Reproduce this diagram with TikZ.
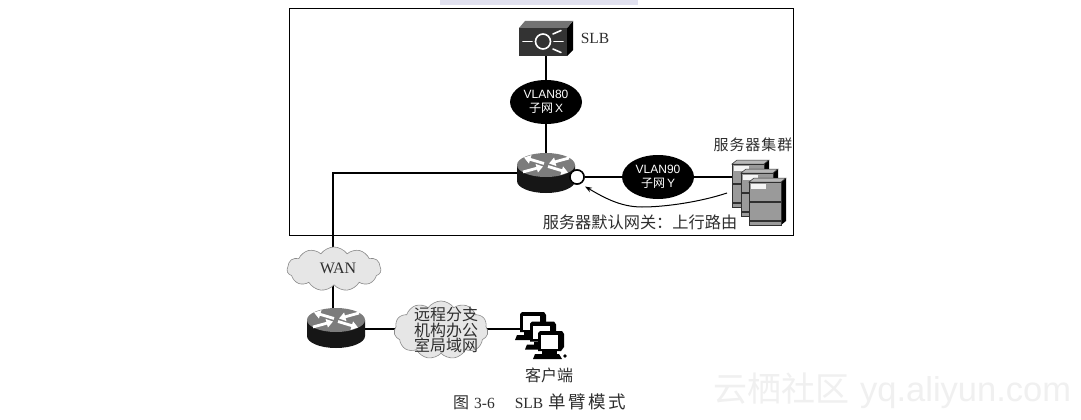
\documentclass[tikz,border=0pt]{standalone}
\usepackage{fontspec}
\setmainfont{Liberation Serif}
\newfontfamily\cjk{Noto Sans CJK SC}
\newfontfamily\cjkwide[LetterSpace=6]{Noto Sans CJK SC}
\newfontfamily\cjkcap[LetterSpace=14]{Noto Sans CJK SC}
\newfontfamily\arialf{Liberation Sans}
\usetikzlibrary{shapes.geometric,shapes.symbols,arrows.meta}
\definecolor{ink}{HTML}{2E2E2E}
\definecolor{cloudfill}{HTML}{E6E6E6}
\definecolor{cloudedge}{HTML}{8A8A8A}
\definecolor{routertop}{HTML}{7C7C7C}
\definecolor{routerbody}{HTML}{161616}
\definecolor{serverface}{HTML}{9A9A9A}
\definecolor{serverline}{HTML}{303030}
\tikzset{
  wire/.style={line width=1.5pt,black},
  vlan/.style={ellipse,fill=black,text=white,minimum width=72pt,minimum height=44pt,inner sep=0pt,align=center},
  netcloud/.style={cloud,fill=cloudfill,draw=cloudedge,line width=0.6pt,cloud puffs=11,cloud puff arc=110,inner sep=0pt},
  anchorbox/.style={inner sep=0pt,outer sep=0pt,rectangle},
  label14/.style={text=ink,inner sep=0pt},
  gateway/.style={circle,draw=black,fill=white,line width=1.5pt,minimum size=14pt,inner sep=0pt},
  routerarrow/.style={white,line width=2.8pt,-{Triangle[length=6.5pt,width=8.5pt]}},
  router/.pic={
    % cylinder body, then the lit top with the four crossing arrows
    \fill[routerbody] (-29,-8) -- (-29,8) arc[start angle=180,end angle=0,x radius=29,y radius=12] -- (29,-8) -- cycle;
    \fill[routertop] (0,-8) ellipse[x radius=29,y radius=12];
    \draw[routerarrow] (-2,-9.5) -- (-22,-15.5);
    \draw[routerarrow] (2,-6.5) -- (22,-0.5);
    \draw[routerarrow] (-23,-1) -- (-3,-6.5);
    \draw[routerarrow] (23,-15) -- (3,-9.5);
  },
  serverbox/.pic={
    % one cabinet, origin at the top left of its front face
    \fill[black] (32,0) -- (37,-4) -- (37,39) -- (32,43) -- cycle;
    \fill[serverface!70!white,draw=serverline,line width=0.5pt] (0,0) -- (5,-4) -- (37,-4) -- (32,0) -- cycle;
    \fill[serverface,draw=serverline,line width=0.7pt] (0,0) rectangle (32,43);
    \fill[white!92!gray] (2,1.5) rectangle (17,7);
    \draw[serverline,line width=1.2pt] (0,20) -- (32,20);
    \draw[serverline,line width=1.2pt] (0,39) -- (32,39);
  },
  clientbox/.pic={
    % one workstation, origin at the top left of its monitor
    \fill[black] (0,0) -- (2,-2) -- (24,-2) -- (26,1) -- (26,14) -- (23,18) -- (0,18) -- cycle;
    \fill[white] (3,2) rectangle (20,15.5);
    \fill[black] (4,18) rectangle (19,21);
    \fill[black] (-3,21) -- (21,21) -- (24,26) -- (-5,26) -- cycle;
  },
}
\begin{document}
\begin{tikzpicture}[x=1pt,y=-1pt]
\useasboundingbox (0,0) rectangle (1081,420);
\fill[white] (0,0) rectangle (1081,420);
\fill[blue!30!gray!18!white] (440,0) rectangle (638,5);

% site address printed across the lower corner
\node[anchor=west,inner sep=0pt,text=black!6] (mark) at (713,391) {\fontsize{34}{36}\selectfont\cjk 云栖社区\hspace{11pt}\arialf\fontsize{34.5}{36}\selectfont yq.aliyun.com};

% enclosing frame of the data-centre segment
\draw[black,line width=1pt] (289,9) rectangle (793,235);

% anchors of the drawn icons
\node[anchorbox,minimum width=54pt,minimum height=35pt] (slb) at (546,38.5) {};
\node[anchorbox,minimum width=58pt,minimum height=40pt] (coreR) at (546,173) {};
\node[anchorbox,minimum width=58pt,minimum height=38pt] (edgeR) at (335,328) {};
\node[anchorbox,minimum width=50pt,minimum height=60pt] (servers) at (755,195) {};
\node[anchorbox,minimum width=48pt,minimum height=50pt] (clients) at (544,335) {};
\coordinate (turn) at (333,173);
\coordinate (serverEdge) at (732,177);
\coordinate (clientEdge) at (521,329);
\coordinate (routeStart) at (727,193);
\coordinate (routeMid) at (642,207);
\coordinate (routeEnd) at (585,186.5);

\node[vlan,font=\fontsize{12}{13.5}\selectfont] (v80) at (546,102) {\arialf VLAN80\\\cjk 子网\,\arialf X};
\node[vlan,font=\fontsize{12}{13.5}\selectfont] (v90) at (658,177) {\arialf VLAN90\\\cjk 子网\,\arialf Y};
\node[gateway] (gw) at (577,177) {};

% links, laid under the icons
\draw[wire] (slb.south) -- (v80.north);
\draw[wire] (v80.south) -- (coreR.north);
\draw[wire] (coreR.west) -- (turn) -- (edgeR.north -| turn);
\draw[wire] (gw.east) -- (v90.west);
\draw[wire] (v90.east) -- (serverEdge);
\draw[wire,line width=1.2pt] (edgeR.east |- clientEdge) -- (clientEdge);

% load balancer appliance
\fill[black] (567,28) -- (573,21) -- (573,50) -- (567,56) -- cycle;
\fill[black!55] (519,28) -- (525,21) -- (573,21) -- (567,28) -- cycle;
\fill[black!80] (519,28) rectangle (567,56);
\draw[white,line width=1.6pt] (543,41.5) circle[radius=7.5];
\draw[white,line width=1.6pt,line cap=round] (523,41.5) -- (532,41.5);
\draw[white,line width=1.6pt,line cap=round] (554,41.5) -- (563,41.5);
\draw[white,line width=1.6pt,line cap=round] (553,34) -- (561,30.5);
\draw[white,line width=1.6pt,line cap=round] (553,49) -- (561,52.5);

% routers
\pic at (546,173) {router};
\node[gateway] at (gw) {};
\pic at (336,328) {router};

% server stack
\pic at (732,164) {serverbox};
\pic at (741,173) {serverbox};
\pic at (749,182) {serverbox};

% uplink route back to the default gateway
\draw[black,line width=1pt,-{Stealth[length=7pt,width=5pt]}] (routeStart)
  .. controls (700,202) and (665,207) .. (routeMid)
  .. controls (620,207) and (603,197) .. (routeEnd);

% clouds
\node[netcloud,minimum width=94pt,minimum height=44pt] (wan) at (334,269) {};
\node[netcloud,minimum width=94pt,minimum height=58pt] (branch) at (441,330) {};
\node[label14,font=\fontsize{16}{17}\selectfont] (wanT) at (338,268) {WAN};
\node[label14,align=center,font=\fontsize{16}{15.5}\selectfont\cjk] (branchT) at (446,330) {远程分支\\机构办公\\室局域网};

% workstations
\pic at (520,314) {clientbox};
\pic at (530,323.5) {clientbox};
\pic at (538,333) {clientbox};
\fill[black] (565,356) circle[radius=1.8];

% captions
\node[label14,font=\fontsize{15.5}{17}\selectfont] (slbT) at (595,38) {SLB};
\node[label14,font=\fontsize{15}{17}\selectfont\cjkwide] (srvT) at (753,145) {服务器集群};
\node[label14,font=\fontsize{16.2}{17}\selectfont\cjk] (gwT) at (640,222.5) {服务器默认网关：上行路由};
\node[label14,font=\fontsize{16}{17}\selectfont\cjk] (cliT) at (549,375) {客户端};
\node[label14,font=\fontsize{15.5}{17}\selectfont,anchor=west] (fig) at (453,402) {{\fontsize{16}{17}\selectfont\cjk 图}\hspace{5pt}3-6\hspace{20pt}SLB\hspace{5pt}{\fontsize{17.5}{17}\selectfont\cjkcap 单臂模式}};
\end{tikzpicture}
\end{document}
